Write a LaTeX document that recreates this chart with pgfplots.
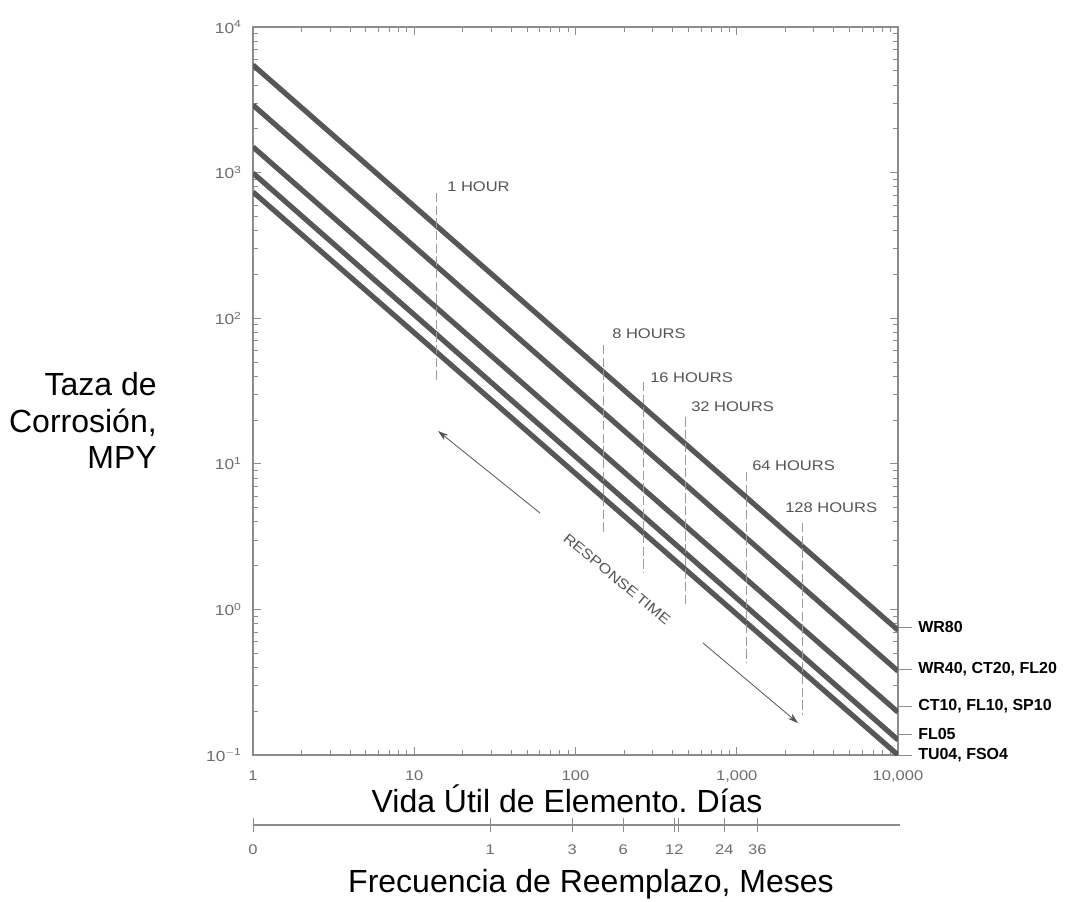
\documentclass[border=0pt]{standalone}
\usepackage{fontspec}
\setmainfont{Liberation Sans}
\newfontfamily\widefont[FakeStretch=1.18]{Liberation Sans}
\usepackage{pgfplots}
\pgfplotsset{compat=1.18}
\usetikzlibrary{arrows.meta}
\definecolor{lin}{HTML}{575757}
\definecolor{axc}{HTML}{8C8C8C}
\definecolor{txg}{HTML}{6E6E6E}
\definecolor{dsh}{HTML}{9C9C9C}
\definecolor{hrs}{HTML}{555555}

\pgfplotstableread{
x y
1 5480
10000 0.72
}\lineA
\pgfplotstableread{
x y
1 2910
10000 0.377
}\lineB
\pgfplotstableread{
x y
1 1500
10000 0.197
}\lineC
\pgfplotstableread{
x y
1 993
10000 0.127
}\lineD
\pgfplotstableread{
x y
1 736
10000 0.100
}\lineE

\begin{document}
\frenchspacing
\begin{tikzpicture}[x=0.75pt,y=-0.75pt]
\path[use as bounding box, fill=white] (0,0) rectangle (1068,901);
\begin{axis}[
  at={(189.75pt,-566.25pt)}, anchor=south west,
  scale only axis, width=483.75pt, height=546pt,
  xmode=log, ymode=log,
  xmin=1, xmax=10000, ymin=0.1, ymax=10000,
  axis line style={axc, line width=0.8pt},
  tick style={axc, line width=0.6pt},
  tick align=inside,
  major tick length=6pt, minor tick length=4pt,
  xtick={1,10,100,1000,10000},
  xticklabels={1,10,100,{1,000},{10,000}},
  minor xtick={2,3,4,5,6,7,8,9,20,30,40,50,60,70,80,90,200,300,400,500,600,700,800,900,2000,3000,4000,5000,6000,7000,8000,9000},
  ytick={0.1,1,10,100,1000,10000},
  yticklabels={10\textsuperscript{$-$1},10\textsuperscript{0},10\textsuperscript{1},10\textsuperscript{2},10\textsuperscript{3},10\textsuperscript{4}},
  minor ytick={0.2,0.3,0.4,0.5,0.6,0.7,0.8,0.9,2,3,4,5,6,7,8,9,20,30,40,50,60,70,80,90,200,300,400,500,600,700,800,900,2000,3000,4000,5000,6000,7000,8000,9000},
  ticklabel style={font=\widefont\fontsize{10.5}{12}\selectfont, text=txg},
  yticklabel style={font=\widefont\fontsize{11}{12}\selectfont},
  xticklabel shift=8pt,
  yticklabel shift=5pt,
  clip=true,
]
\addplot[lin, line width=3.9pt] table {\lineA};
\addplot[lin, line width=3.9pt] table {\lineB};
\addplot[lin, line width=3.9pt] table {\lineC};
\addplot[lin, line width=3.9pt] table {\lineD};
\addplot[lin, line width=3.9pt] table {\lineE};
% response time markers
\addplot[dsh, line width=0.6pt, dash pattern=on 7pt off 2.5pt] coordinates {(13.8,724) (13.8,36.5)};
\addplot[dsh, line width=0.6pt, dash pattern=on 7pt off 2.5pt] coordinates {(148,65.5) (148,3.35)};
\addplot[dsh, line width=0.6pt, dash pattern=on 7pt off 2.5pt] coordinates {(262,36.5) (262,1.78)};
\addplot[dsh, line width=0.6pt, dash pattern=on 7pt off 2.5pt] coordinates {(478,20.9) (478,1.04)};
\addplot[dsh, line width=0.6pt, dash pattern=on 7pt off 2.5pt] coordinates {(1141,8.79) (1141,0.435)};
\addplot[dsh, line width=0.6pt, dash pattern=on 7pt off 2.5pt] coordinates {(2540,3.92) (2540,0.188)};
\end{axis}

% second scale (months)
\begin{axis}[
  at={(189.75pt,-618.75pt)}, anchor=south west,
  scale only axis, width=485pt, height=1pt,
  xmin=0, xmax=4.008, ymin=0, ymax=1,
  hide y axis,
  axis x line*=bottom,
  axis line style={axc, line width=0.8pt},
  tick style={axc, line width=0.7pt},
  tick align=center, major tick length=10pt,
  xtick={0,1.470,1.978,2.295,2.611,2.921,3.126},
  xticklabels={0,1,3,6,12,24,36},
  extra x ticks={2.635}, extra x tick labels={},
  ticklabel style={font=\widefont\fontsize{10.5}{12}\selectfont, text=txg},
  xticklabel shift=6pt,
]
\addplot[draw=none] coordinates {(0,0) (4,0)};
\end{axis}

% hour labels
\begin{scope}[every node/.style={anchor=west, inner sep=0pt, text=hrs, font=\widefont\fontsize{10.5}{12}\selectfont}]
\node at (447,187) {1 HOUR};
\node at (612,334) {8 HOURS};
\node at (650,378) {16 HOURS};
\node at (691,407) {32 HOURS};
\node at (752,466) {64 HOURS};
\node at (785,508) {128 HOURS};
\end{scope}

% response time
\node[rotate=-39.4, text=hrs, inner sep=0pt, font=\widefont\fontsize{10.5}{12}\selectfont] at (617,579) {RESPONSE\,TIME};
\draw[hrs, line width=0.6pt, -{Stealth[length=8pt,width=5pt]}] (540,513) -- (438,431);
\draw[hrs, line width=0.6pt, -{Stealth[length=8pt,width=5pt]}] (703,643) -- (798,723);

% right labels
\begin{scope}[every node/.style={anchor=west, inner sep=0pt, font=\bfseries\fontsize{12}{14}\selectfont}]
\draw[axc, line width=0.7pt] (898,627) -- (912,627); \node at (918,627) {WR80};
\draw[axc, line width=0.7pt] (898,669) -- (912,669); \node at (918,669) {WR40, CT20, FL20};
\draw[axc, line width=0.7pt] (898,706) -- (912,706); \node at (918,706) {CT10, FL10, SP10};
\draw[axc, line width=0.7pt] (898,734) -- (912,734); \node at (918,734) {FL05};
\draw[axc, line width=0.7pt] (898,755) -- (912,755); \node at (918,755) {TU04, FSO4};
\end{scope}

% axis titles
\begin{scope}[every node/.style={inner sep=0pt, font=\fontsize{24}{27}\selectfont}]
\node[anchor=base east] at (157,395) {Taza de};
\node[anchor=base east] at (157,432) {Corrosión,};
\node[anchor=base east] at (157,468) {MPY};
\node[anchor=base] at (567,812) {Vida Útil de Elemento. Días};
\node[anchor=base] at (591,892) {Frecuencia de Reemplazo, Meses};
\end{scope}
\end{tikzpicture}
\end{document}
